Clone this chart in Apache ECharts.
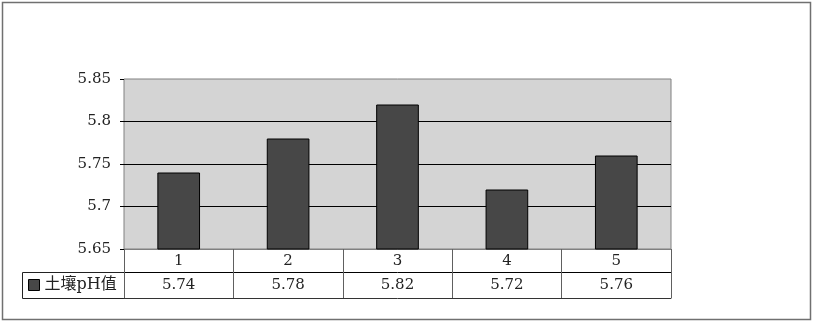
<!DOCTYPE html>
<html><head><meta charset="utf-8">
<script src="https://cdn.jsdelivr.net/npm/echarts@6/dist/echarts.min.js"></script>
<style>html,body{margin:0;padding:0;background:#fff}#c{width:814px;height:323px}</style>
</head><body><div id="c"></div>
<script>
var categories = ['1', '2', '3', '4', '5'];
var seriesName = '土壤pH值';
var phValues = [5.74, 5.78, 5.82, 5.72, 5.76];
var yMin = 5.65, yMax = 5.85, yStep = 0.05;

var FONT = '"DejaVu Serif", "Noto Sans CJK SC", serif';
var chart = echarts.init(document.getElementById('c'));
chart.setOption({
  animation: false,
  backgroundColor: '#fff',
  textStyle: { fontFamily: FONT },
  grid: { left: 124, right: 143, top: 79, bottom: 74, show: true,
          backgroundColor: '#d4d4d4', borderColor: '#808080', borderWidth: 1 },
  legend: {
    data: [seriesName], left: 28, top: 277, padding: 0,
    itemWidth: 11, itemHeight: 11, icon: 'rect',
    itemStyle: { color: '#474747', borderColor: '#000', borderWidth: 1 },
    textStyle: { fontFamily: FONT, fontSize: 16, color: '#222' }
  },
  xAxis: [
    { type: 'category', data: categories, position: 'bottom', boundaryGap: true,
      axisLine: { show: true, lineStyle: { color: '#808080' } },
      axisTick: { show: true, length: 23, interval: 0, lineStyle: { color: '#606060' } },
      axisLabel: { margin: 5, fontSize: 15, color: '#222', fontFamily: FONT } },
    { type: 'category', data: phValues.map(function (v) { return v.toFixed(2); }),
      position: 'bottom', offset: 23, boundaryGap: true,
      axisLine: { show: true, lineStyle: { color: '#000' } },
      axisTick: { show: true, length: 26, interval: 0, lineStyle: { color: '#606060' } },
      axisLabel: { margin: 6, fontSize: 15, color: '#222', fontFamily: FONT } },
    { type: 'category', data: categories, position: 'bottom', offset: 49,
      axisLine: { show: true, lineStyle: { color: '#333' } },
      axisTick: { show: false }, axisLabel: { show: false } }
  ],
  yAxis: {
    type: 'value', min: yMin, max: yMax, interval: yStep,
    axisLine: { show: false },
    axisTick: { show: true, length: 4, lineStyle: { color: '#000' } },
    axisLabel: { margin: 13, fontSize: 15, color: '#222', fontFamily: FONT,
                 formatter: function (v) { return String(Math.round(v * 100) / 100); } },
    splitLine: { show: true, showMinLine: false, showMaxLine: false,
                 lineStyle: { color: '#000', width: 1 } }
  },
  series: [{
    name: seriesName, type: 'bar', data: phValues, xAxisIndex: 0,
    barCategoryGap: '61%',
    itemStyle: { color: '#474747', borderColor: '#000', borderWidth: 1 }
  }],
  graphic: [
    { type: 'rect', shape: { x: 2.5, y: 2.5, width: 808, height: 317 },
      style: { fill: 'none', stroke: '#707070', lineWidth: 1.5 }, silent: true },
    { type: 'rect', shape: { x: 22.5, y: 272.5, width: 102, height: 26 },
      style: { fill: 'none', stroke: '#222', lineWidth: 1 }, silent: true }
  ]
});
</script></body></html>
